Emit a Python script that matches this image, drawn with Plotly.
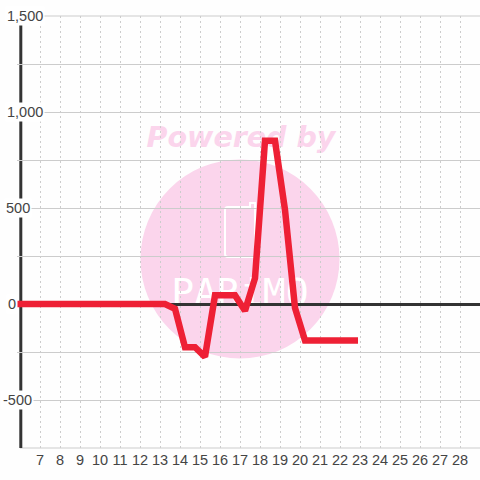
import plotly.graph_objects as go

x_vals = [5.85, 13.25, 13.75, 14.25, 14.75, 15.25, 15.75, 16.25, 16.75, 17.25, 17.75, 18.25, 18.75, 19.25, 19.75, 20.25, 20.75, 21.25, 21.75, 22.25, 22.9]
y_vals = [0, 0, -25, -225, -225, -275, 45, 45, 45, -35, 135, 850, 850, 490, -20, -190, -190, -190, -190, -190, -190]
x_ticks = list(range(7, 29))
y_labels = [(1500, "1,500", 25), (1000, "1,000", 25), (500, "500", 18), (0, "0", 12), (-500, "-500", 17)]

W, H = 480, 480
L, T, B = 17, 16, 32
PH = H - T - B
PW = W - L
GREY = "#cccccc"
DARK = "#333333"
PINK = "#fbd5ec"
BG = "#fefefe"

def px(v):
    return (v - L) / PW

def py(v):
    return 1 - (v - T) / PH

def P(a, b):
    return f"{px(a):.5f},{py(b):.5f}"

fig = go.Figure(go.Scatter(x=x_vals, y=y_vals, mode="lines", cliponaxis=False,
                           line=dict(color="#ee2035", width=6.5, shape="linear"), hoverinfo="skip"))

shapes = [
    dict(type="circle", xref="paper", yref="paper", layer="below",
         x0=px(140.5), x1=px(339.5), y0=py(358.5), y1=py(159.5),
         fillcolor=PINK, line=dict(width=0)),
    # white icon in the watermark
    dict(type="path", xref="paper", yref="paper", layer="below",
         path=f"M {P(228,207)} L {P(250,207)} L {P(250,203)} L {P(255,203)} L {P(255,257)} L {P(228,257)} "
              f"Q {P(225,257)} {P(225,254)} L {P(225,210)} Q {P(225,207)} {P(228,207)} Z",
         line=dict(color="white", width=2), fillcolor=PINK),
    dict(type="rect", xref="paper", yref="paper", layer="below",
         x0=px(141), x1=px(341), y0=py(150), y1=py(120), line=dict(width=0),
         fillcolor="rgba(0,0,0,0)",
         label=dict(text="Powered by", textposition="middle center",
                    font=dict(family="DejaVu Sans", size=28.5, color=PINK, weight="bold", style="italic"))),
    dict(type="rect", xref="paper", yref="paper", layer="below",
         x0=px(170), x1=px(310), y0=py(307), y1=py(271), line=dict(width=0),
         fillcolor="rgba(0,0,0,0)",
         label=dict(text="PARiMO", textposition="middle center",
                    font=dict(family="DejaVu Sans Mono", size=38, color="white"))),
    # gridlines at the two ends of the value range
    dict(type="line", xref="paper", yref="paper", layer="below", x0=px(20), x1=1, y0=1, y1=1,
         line=dict(color=GREY, width=1.2)),
    dict(type="line", xref="paper", yref="paper", layer="below", x0=px(20), x1=1, y0=0, y1=0,
         line=dict(color=GREY, width=1.2)),
    # hides grid stubs left of the vertical axis
    dict(type="rect", xref="paper", yref="paper", layer="between", x0=0, x1=px(20), y0=0, y1=1,
         fillcolor=BG, line=dict(width=0)),
    # vertical axis line
    dict(type="line", xref="paper", yref="paper", layer="between", x0=px(20.8), x1=px(20.8), y0=0, y1=1,
         line=dict(color=DARK, width=3)),
]

annotations = []
for v, s, cx in y_labels:
    annotations.append(dict(text=s, xref="paper", yref="y", x=px(cx), y=v, showarrow=False,
                            font=dict(family="Liberation Sans", size=14.5, color="#444444"),
                            bgcolor="white", borderpad=1, xanchor="center"))

fig.update_layout(
    width=W, height=H, autosize=False,
    margin=dict(l=L, r=0, t=T, b=B),
    paper_bgcolor=BG, plot_bgcolor=BG,
    showlegend=False, shapes=shapes, annotations=annotations,
    font=dict(family="Liberation Sans", size=14.5, color="#444444"),
    xaxis=dict(range=[5.85, 29], tickvals=x_ticks, ticks="", showline=False,
               showgrid=True, gridcolor=GREY, griddash="2px,3px", gridwidth=1, zeroline=False,
               ticklabelstandoff=1, tickfont=dict(size=14.5, color="#444444")),
    yaxis=dict(range=[-750, 1500], tickvals=[-500, -250, 0, 250, 500, 750, 1000, 1250],
               showticklabels=False, ticks="", showgrid=True, gridcolor=GREY, gridwidth=1.2,
               zeroline=True, zerolinecolor=DARK, zerolinewidth=3, showline=False),
)
fig.write_html("out.html", config=dict(displayModeBar=False),
               post_script="document.body.style.margin='0';document.body.style.overflow='hidden';")
